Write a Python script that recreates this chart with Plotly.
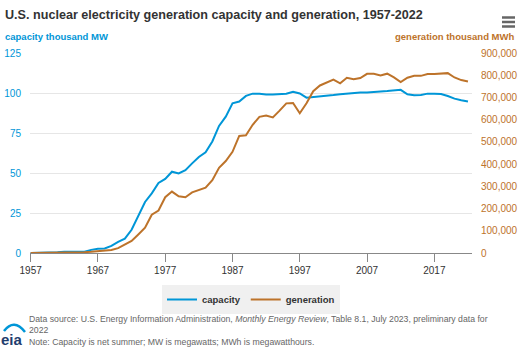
import plotly.graph_objects as go

years = list(range(1957, 2023))

capacity = [0.055, 0.055, 0.055, 0.411, 0.411, 0.822, 0.822, 0.822, 0.822, 1.963,
            2.7, 2.8, 4.4, 7.0, 9.0, 14.5, 22.7, 31.9, 37.3, 43.8,
            46.3, 50.8, 49.7, 51.8, 56.0, 60.0, 63.0, 69.7, 79.4, 85.2,
            93.6, 94.7, 98.2, 99.6, 99.6, 99.0, 99.0, 99.1, 99.5, 100.8,
            99.7, 97.1, 97.4, 97.9, 98.2, 98.7, 99.2, 99.6, 100.0, 100.3,
            100.3, 100.8, 101.0, 101.2, 101.4, 102.0, 99.2, 98.6, 98.7, 99.6,
            99.6, 99.4, 98.1, 96.5, 95.5, 94.7]

generation = [10, 165, 188, 518, 1692, 2270, 3212, 3343, 3657, 5520,
              7655, 12528, 13928, 21804, 38105, 54091, 83479, 113976, 172505, 191104,
              250883, 276403, 255155, 251116, 272674, 282773, 293677, 327634, 383691, 414038,
              455270, 526973, 529355, 576862, 612565, 618776, 610291, 640440, 673402, 674729,
              628644, 673702, 728254, 753893, 768826, 780064, 763733, 788528, 781986, 787219,
              806425, 806208, 798855, 806968, 790204, 769331, 789016, 797166, 797178, 805694,
              804950, 807084, 809409, 789879, 778152, 771537]

x_ticks = [1957, 1967, 1977, 1987, 1997, 2007, 2017]

BLUE = "#0096d7"
BROWN = "#bd732a"
FONT = "Liberation Sans, Arial, sans-serif"

W, H = 526, 348
L, R, T, B = 30, 54, 53, 95
pw, ph = W - L - R, H - T - B


def px(xp):
    return (xp - L) / pw


def py(yp):
    return (H - B - yp) / ph


fig = go.Figure()
fig.add_trace(go.Scatter(x=years, y=capacity, name="capacity", mode="lines",
                         line=dict(color=BLUE, width=2), yaxis="y"))
fig.add_trace(go.Scatter(x=years, y=generation, name="generation", mode="lines",
                         line=dict(color=BROWN, width=2), yaxis="y2"))

ann = [
    dict(text="<b>U.S. nuclear electricity generation capacity and generation, 1957-2022</b>",
         x=px(3), y=py(15), xref="paper", yref="paper", xanchor="left", yanchor="middle",
         showarrow=False, font=dict(size=12.6, color="#333333", family=FONT)),
    dict(text="<b>capacity thousand MW</b>", x=px(3), y=py(36), xref="paper", yref="paper",
         xanchor="left", yanchor="middle", showarrow=False,
         font=dict(size=9.5, color=BLUE, family=FONT)),
    dict(text="<b>generation thousand MWh</b>", x=px(516), y=py(36), xref="paper", yref="paper",
         xanchor="right", yanchor="middle", showarrow=False,
         font=dict(size=9.5, color=BROWN, family=FONT)),
    dict(text="Data source: U.S. Energy Information Administration, <i>Monthly Energy Review</i>, Table 8.1, July 2023, preliminary data for<br>2022<br>Note: Capacity is net summer; MW is megawatts; MWh is megawatthours.",
         x=px(27), y=py(312), xref="paper", yref="paper", xanchor="left", yanchor="top",
         align="left", showarrow=False,
         font=dict(size=8.7, color="#666666", family=FONT)),
    dict(text="<b>eia</b>", x=px(-1), y=py(339), xref="paper", yref="paper",
         xanchor="left", yanchor="middle", showarrow=False,
         font=dict(size=15, color="#1f3d6e", family=FONT)),
]

shapes = []
for yy in [17.5, 22, 26.5]:
    shapes.append(dict(type="line", xref="paper", yref="paper",
                       x0=px(502), x1=px(515), y0=py(yy), y1=py(yy),
                       line=dict(color="#666666", width=2.5)))
shapes.append(dict(type="path", xref="paper", yref="paper",
                   path=f"M {px(4)} {py(331)} Q {px(14)} {py(318)} {px(25)} {py(332)}",
                   line=dict(color=BLUE, width=2.5)))

fig.update_layout(
    width=W, height=H,
    margin=dict(l=L, r=R, t=T, b=B, autoexpand=False),
    paper_bgcolor="white", plot_bgcolor="white",
    font=dict(family=FONT, size=10, color="#333333"),
    showlegend=True,
    legend=dict(orientation="h", x=0.5, xanchor="center", y=py(285), yanchor="top",
                bgcolor="#f0f0f0", font=dict(size=9.5, color="#333333", family=FONT, weight="bold"),
                tracegroupgap=0),
    xaxis=dict(range=[1956.9, 2022.6], tickvals=x_ticks, showgrid=False,
               showline=True, linecolor="#888888", linewidth=1,
               ticks="outside", ticklen=8, tickcolor="#888888",
               tickfont=dict(size=10, color="#333333"), zeroline=False, automargin=False),
    yaxis=dict(range=[0, 125], dtick=25, showgrid=True, gridcolor="#e6e6e6",
               zeroline=False, tickfont=dict(size=10, color=BLUE), ticklabelstandoff=8,
               automargin=False),
    yaxis2=dict(range=[0, 900000], dtick=100000, overlaying="y", side="right",
                showgrid=False, zeroline=False, tickformat=",",
                tickfont=dict(size=10, color=BROWN), ticklabelstandoff=8, automargin=False),
    annotations=ann,
    shapes=shapes,
)

fig.write_html("out.html")
